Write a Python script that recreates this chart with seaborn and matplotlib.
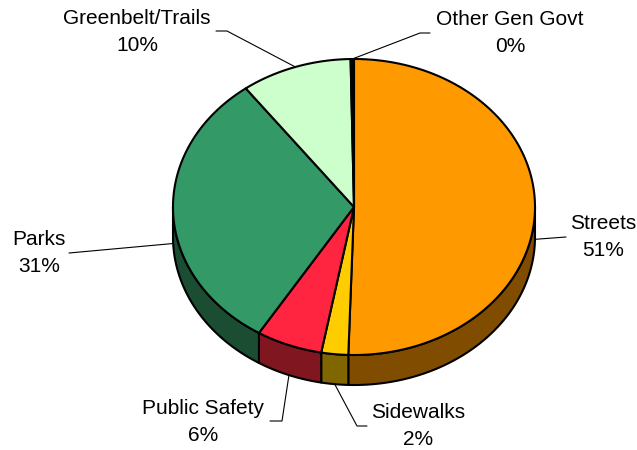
import matplotlib
matplotlib.use('Agg')
import matplotlib.pyplot as plt
from matplotlib.patches import Polygon
import seaborn as sns
import numpy as np

# data
categories = ['Streets', 'Sidewalks', 'Public Safety', 'Parks', 'Greenbelt/Trails', 'Other Gen Govt']
shares = [50.5, 2.4, 5.9, 31.0, 9.9, 0.3]
top_colors = ['#FF9900', '#FFCC00', '#FF2440', '#339966', '#CCFFCC', '#000000']
side_colors = ['#804D00', '#806600', '#80161F', '#1B4D33', '#668066', '#000000']

# layout (pixel units of a 637x450 canvas)
cx, cy, rx, ry, depth = 354, 207, 181, 148, 30
label_xy = [(603, 237), (418, 426), (203, 422), (39, 253), (137, 32), (510, 33)]
leader_end = [[(566, 237)], [(357, 426), (367, 426)], [(282, 421), (270, 421)],
              [(69, 253)], [(227, 31), (216, 31)], [(420, 33), (430, 33)]]

sns.set_theme(style='white')
plt.rcParams['font.family'] = ['Liberation Sans', 'DejaVu Sans']

fig = plt.figure(figsize=(6.37, 4.5), dpi=100)
ax = fig.add_axes([0, 0, 1, 1])
ax.set_xlim(0, 637)
ax.set_ylim(450, 0)
ax.axis('off')


def ex(t):
    return cx + rx * np.sin(np.radians(t))


def ey(t):
    return cy - ry * np.cos(np.radians(t))


bounds = np.concatenate([[0], np.cumsum(shares) / np.sum(shares) * 360])

# side walls (front half only)
for i in range(len(shares)):
    lo, hi = max(bounds[i], 90), min(bounds[i + 1], 270)
    if lo >= hi:
        continue
    ts = np.linspace(lo, hi, 80)
    xs, ys = ex(ts), ey(ts)
    pts = np.column_stack([np.r_[xs, xs[::-1]], np.r_[ys, ys[::-1] + depth]])
    ax.add_patch(Polygon(pts, closed=True, facecolor=side_colors[i],
                         edgecolor='black', lw=1.5, joinstyle='round'))

# top faces
for i in range(len(shares)):
    ts = np.linspace(bounds[i], bounds[i + 1], max(4, int(bounds[i + 1] - bounds[i]) * 2))
    pts = np.vstack([[cx, cy], np.column_stack([ex(ts), ey(ts)])])
    ax.add_patch(Polygon(pts, closed=True, facecolor=top_colors[i],
                         edgecolor='black', lw=1.5, joinstyle='round'))

# labels with leader lines
for i, name in enumerate(categories):
    m = (bounds[i] + bounds[i + 1]) / 2
    ax_, ay_ = ex(m), ey(m) + (depth if 90 < m < 270 else 0)
    path = [(ax_, ay_)] + leader_end[i]
    ax.plot([p[0] for p in path], [p[1] for p in path], color='black', lw=0.8)
    pct = int(shares[i] / sum(shares) * 100 + 0.5)
    ax.text(label_xy[i][0], label_xy[i][1], f'{name}\n{pct}%', ha='center', va='center',
            fontsize=15, linespacing=1.55, color='black')

fig.savefig('out.png', dpi=100)
